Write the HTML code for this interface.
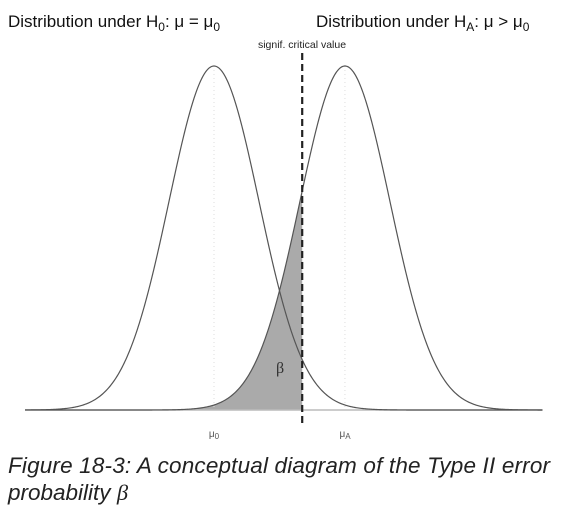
<!DOCTYPE html>
<html><head><meta charset="utf-8"><style>
body{margin:0;background:#fff;width:565px;height:516px;overflow:hidden;font-family:"Liberation Sans",sans-serif}
</style></head><body>
<svg width="565" height="516" id="chart" xmlns="http://www.w3.org/2000/svg">
<g id="marks"></g>
<text x="8" y="27" font-size="17" fill="#111">Distribution under H<tspan font-size="12" dy="4">0</tspan><tspan dy="-4">: μ = μ</tspan><tspan font-size="12" dy="4">0</tspan></text>
<text x="316" y="27" font-size="17" fill="#111">Distribution under H<tspan font-size="12" dy="4">A</tspan><tspan dy="-4">: μ &gt; μ</tspan><tspan font-size="12" dy="4">0</tspan></text>
<text x="302" y="48" font-size="10.5" fill="#222" text-anchor="middle">signif. critical value</text>
<text x="276" y="373" font-size="16" fill="#333" font-family="Liberation Serif,serif">β</text>
<text x="214" y="437" font-size="10" fill="#555" text-anchor="middle">μ<tspan font-size="8" dy="2">0</tspan></text>
<text x="345" y="437" font-size="10" fill="#555" text-anchor="middle">μ<tspan font-size="8" dy="2">A</tspan></text>
<text x="8" y="473" font-size="22.5" font-style="italic" fill="#222" textLength="542">Figure 18-3: A conceptual diagram of the Type II error</text>
<text x="8" y="500" font-size="22.5" font-style="italic" fill="#222">probability <tspan font-family="Liberation Serif,serif">β</tspan></text>
</svg>
<script>
var means = [0, 2.91];
var sigma = [1, 1];
var critical = [1.96];
var NS = "http://www.w3.org/2000/svg";
var XMIN = -4.2, XMAX = 7.3;
function sx(v) { return 214 + v * 45; }
function sy(d) { return 410 - d * 344; }
function dens(x, m, s) { return Math.exp(-((x - m) / s) * ((x - m) / s) / 2); }
var g = document.getElementById('marks');
function mk(t, a) {
  var e = document.createElementNS(NS, t);
  for (var k in a) e.setAttribute(k, a[k]);
  g.appendChild(e);
  return e;
}
var c0 = critical[0];
var p = "M" + sx(XMIN) + "," + sy(0);
for (var x = XMIN; x <= c0; x += 0.02) p += " L" + sx(x) + "," + sy(dens(x, means[1], sigma[1]));
p += " L" + sx(c0) + "," + sy(dens(c0, means[1], sigma[1])) + " L" + sx(c0) + "," + sy(0) + " Z";
var sh = mk('path', {d: p, fill: '#aaaaaa'});


for (var i = 0; i < means.length; i++) {
  var l = mk('line', {x1: sx(means[i]), x2: sx(means[i]), y1: sy(1), y2: sy(0), stroke: '#ddd', 'stroke-dasharray': '1,3'});
  
  
}
var b = mk('line', {x1: sx(XMIN), x2: sx(XMAX), y1: sy(0), y2: sy(0), stroke: '#bbb', 'stroke-width': 1.5});


for (var j = 0; j < means.length; j++) {
  var d = "";
  for (var xx = XMIN; xx <= XMAX; xx += 0.02) d += (d ? " L" : "M") + sx(xx) + "," + sy(dens(xx, means[j], sigma[j]));
  var c = mk('path', {d: d, fill: 'none', stroke: '#555', 'stroke-width': 1.2});
  
  
}
var cl = mk('line', {x1: sx(c0), x2: sx(c0), y1: 53, y2: 425, stroke: '#222', 'stroke-width': 2.2, 'stroke-dasharray': '7,4'});


</script>
</body></html>
